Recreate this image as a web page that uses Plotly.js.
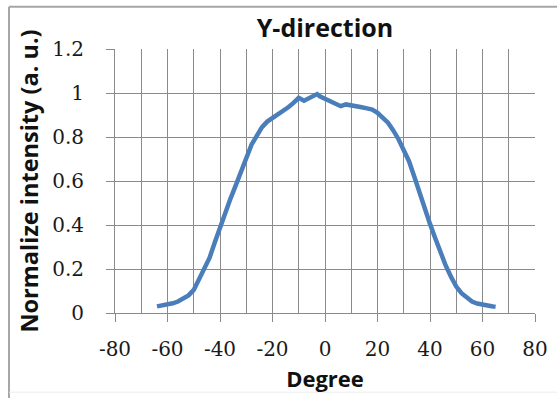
<!DOCTYPE html>
<html>
<head>
<meta charset="utf-8">
<script src="https://cdn.plot.ly/plotly-3.0.1.min.js"></script>
<style>html,body{margin:0;padding:0;background:#fff;}#chart{width:557px;height:398px;}</style>
</head>
<body>
<div id="chart"></div>
<script>
var degrees = [-64,-62,-60,-58,-56,-54,-52,-50,-48,-46,-44,-42,-40,-38,-36,-34,-32,-30,-28,-26,-24,-22,-20,-18,-16,-14,-12,-10,-8,-6,-4,-3,-2,0,2,4,6,8,10,12,14,16,18,20,22,24,26,28,30,32,34,36,38,40,42,44,46,48,50,52,54,56,58,60,62,64,65];
var intensity = [0.030,0.033,0.037,0.044,0.052,0.064,0.080,0.105,0.150,0.200,0.250,0.320,0.390,0.455,0.520,0.580,0.645,0.705,0.765,0.805,0.845,0.870,0.885,0.905,0.920,0.935,0.955,0.978,0.965,0.975,0.985,0.995,0.985,0.975,0.965,0.950,0.940,0.948,0.945,0.940,0.935,0.930,0.925,0.910,0.890,0.865,0.830,0.790,0.740,0.690,0.620,0.545,0.475,0.405,0.340,0.275,0.215,0.165,0.120,0.090,0.068,0.052,0.043,0.037,0.033,0.030,0.029];
var xTickVals = [-80,-60,-40,-20,0,20,40,60,80];
var xTickText = ["-80","-60","-40","-20","0","20","40","60","80"];
var yTickVals = [0,0.2,0.4,0.6,0.8,1,1.2];
var yTickText = ["0","0.2","0.4","0.6","0.8","1","1.2"];
var chartTitle = "Y-direction";
var xTitle = "Degree";
var yTitle = "Normalize intensity (a. u.)";

var grid = "#8a8a8a";
var tickFont = {family: "DejaVu Serif, Liberation Serif, serif", size: 20, color: "#1a1a1a"};
var sans = "Open Sans, Liberation Sans, sans-serif";

var trace = {
  x: degrees, y: intensity, type: "scatter", mode: "lines",
  line: {color: "#4a7ebb", width: 4.5}, hoverinfo: "skip"
};

var layout = {
  width: 557, height: 398,
  margin: {l: 115, r: 22, t: 48.5, b: 85},
  paper_bgcolor: "#ffffff", plot_bgcolor: "#ffffff",
  showlegend: false,
  title: {text: "<b>" + chartTitle + "</b>", font: {family: sans, size: 25, color: "#111"}, x: 0.5, xanchor: "center", xref: "paper", y: 0.93, yanchor: "middle"},
  xaxis: {
    range: [-80, 80], tickmode: "array", tickvals: xTickVals, ticktext: xTickText,
    showgrid: true, gridcolor: grid, gridwidth: 1,
    minor: {dtick: 10, tick0: -80, showgrid: true, gridcolor: grid, gridwidth: 1, ticks: ""},
    zeroline: false, showline: true, linecolor: grid, linewidth: 1,
    ticks: "outside", ticklen: 8, tickcolor: grid,
    tickfont: tickFont, ticklabelstandoff: 10,
    title: {text: "<b>" + xTitle + "</b>", font: {family: sans, size: 22, color: "#111"}, standoff: 11},
    fixedrange: true
  },
  yaxis: {
    range: [0, 1.2], tickmode: "array", tickvals: yTickVals, ticktext: yTickText,
    showgrid: true, gridcolor: grid, gridwidth: 1,
    zeroline: false, showline: true, linecolor: grid, linewidth: 1,
    ticks: "outside", ticklen: 8, tickcolor: grid,
    tickfont: tickFont, ticklabelstandoff: 18,
    title: {text: "<b>" + yTitle + "</b>", font: {family: sans, size: 23.5, color: "#111"}, standoff: 6},
    fixedrange: true
  },
  shapes: [
    {type: "line", xref: "paper", yref: "paper", x0: -0.2524, x1: 1.06, y0: 1.1604, y1: 1.1604, line: {color: "#a6a6a6", width: 2}},
    {type: "line", xref: "paper", yref: "paper", x0: -0.2524, x1: -0.2524, y0: 1.1604, y1: -0.33, line: {color: "#a6a6a6", width: 2}},
    {type: "line", xref: "paper", yref: "paper", x0: -0.2524, x1: 1.06, y0: -0.3, y1: -0.3, line: {color: "#ececec", width: 1}}
  ]
};

Plotly.newPlot("chart", [trace], layout, {staticPlot: true, displayModeBar: false});
</script>
</body>
</html>
